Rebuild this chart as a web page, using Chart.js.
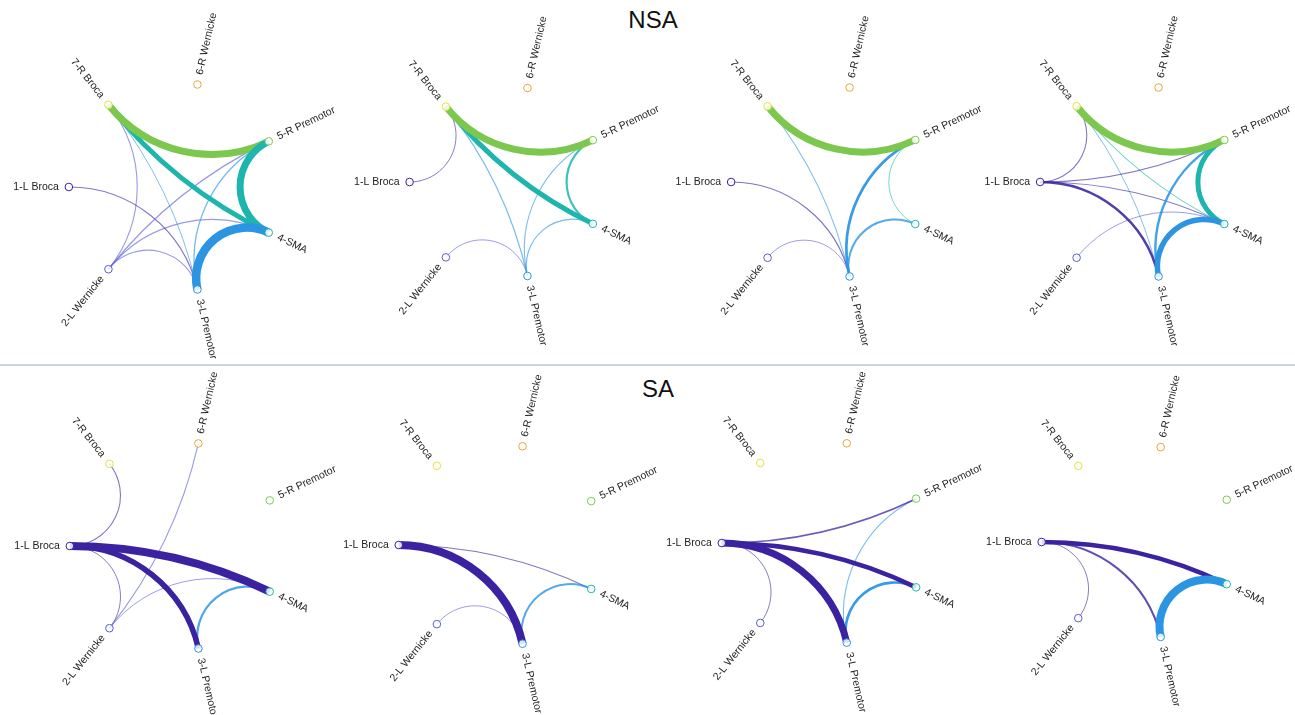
<!DOCTYPE html>
<html>
<head>
<meta charset="utf-8">
<title>NSA / SA</title>
<script src="https://cdn.jsdelivr.net/npm/chart.js@4.4.1/dist/chart.umd.min.js"></script>
<style>
  html, body { margin: 0; padding: 0; background: #fff; }
  body {
    position: relative; width: 1295px; height: 715px; overflow: hidden;
    font-family: "Liberation Sans", Arial, sans-serif;
  }
  .panel { position: absolute; }
  .title {
    position: absolute; font-size: 24px; line-height: 1; color: #111;
    transform: translateX(-50%); white-space: nowrap;
  }
  .sep { position: absolute; left: 0; top: 364px; width: 1295px; height: 2px; background: #c8d5e4; }
</style>
</head>
<body>
<div class="title" style="left:653px;top:8px">NSA</div>
<div class="sep"></div>
<div class="title" style="left:658px;top:377px">SA</div>

<script>
'use strict';

// ── DATA ────────────────────────────────────────────────────────
var nodeNames  = ['1-L Broca', '2-L Wernicke', '3-L Premotor', '4-SMA',
                  '5-R Premotor', '6-R Wernicke', '7-R Broca'];
var nodeColors = ['#3a22a0', '#5a5cd8', '#2b95e3', '#1db5ae',
                  '#7cc84e', '#e6a63c', '#e4e23e'];

// [node a, node b, line width]  (node numbers as in the labels)
var nsa1 = [[7,5,7], [7,4,5], [5,4,7], [4,3,8.5], [5,3,1.3], [5,2,1.2],
            [4,2,1.1], [7,2,1.1], [7,3,1], [1,3,1.1], [2,3,1.1]];
var nsa2 = [[7,5,7], [7,4,5], [5,4,2.2], [7,1,1], [7,3,1.2], [5,3,1.1],
            [4,3,1.2], [2,3,1]];
var nsa3 = [[7,5,7], [7,3,1.1], [5,3,2.7], [5,4,1], [4,3,2], [1,3,1.2], [2,3,1]];
var nsa4 = [[7,5,7], [7,1,1.1], [7,4,1.1], [7,3,1], [1,5,1.1], [1,4,1.1],
            [1,3,2.4], [5,4,5], [5,3,2.4], [4,3,5.5], [2,4,1]];
var sa1  = [[1,7,1.1], [1,4,8], [1,3,5.5], [1,2,1], [2,6,1.1], [2,4,1], [3,4,2.2]];
var sa2  = [[1,3,8], [1,4,1.2], [2,3,1], [3,4,2]];
var sa3  = [[1,5,1.7], [1,4,4.5], [1,3,7], [1,2,1], [3,5,1.1], [3,4,2.7]];
var sa4  = [[1,4,4.5], [1,3,2], [1,2,1], [3,4,8]];

// ── LAYOUT (centre and ring radius of each panel, px) ─────────────
var panels = [
  { edges: nsa1, cx: 174,  cy: 187, r: 108 },
  { edges: nsa2, cx: 506,  cy: 182, r: 99 },
  { edges: nsa3, cx: 828,  cy: 182, r: 99.5 },
  { edges: nsa4, cx: 1137, cy: 182, r: 99.5 },
  { edges: sa1,  cx: 175,  cy: 546, r: 108 },
  { edges: sa2,  cx: 500,  cy: 545, r: 104 },
  { edges: sa3,  cx: 824,  cy: 543, r: 105 },
  { edges: sa4,  cx: 1139, cy: 542, r: 100 }
];
var HALF = 190;      // half size of every canvas
var N    = nodeNames.length;

// node k sits on the unit ring, node 1 on the left, going anticlockwise down
function nodeAngle(k) {
  return Math.PI + (k - 1) * 2 * Math.PI / N;
}

function hexAlpha(hex, a) {
  var n = parseInt(hex.slice(1), 16);
  return 'rgba(' + (n >> 16) + ',' + ((n >> 8) & 255) + ',' + (n & 255) + ',' + a + ')';
}

// ── PLUGINS ─────────────────────────────────────────────────────
// edges: circle arcs orthogonal to the ring (tangents meet at the centre)
var edgePlugin = {
  id: 'edges',
  beforeDatasetsDraw: function (chart) {
    var ctx = chart.ctx;
    var xs  = chart.scales.x, ys = chart.scales.y;
    var ox  = xs.getPixelForValue(0), oy = ys.getPixelForValue(0);
    var rad = xs.getPixelForValue(1) - ox;
    var pts = chart.getDatasetMeta(0).data;
    var list = chart.options.plugins.edges.list.slice().sort(function (a, b) { return a[2] - b[2]; });

    ctx.save();
    list.forEach(function (e) {
      var a = e[0], b = e[1], w = e[2];
      var p = pts[a - 1], q = pts[b - 1];
      var d = Math.abs(a - b);
      var steps = Math.min(d, N - d);
      var R = rad * Math.tan(steps * Math.PI / N);
      var col = nodeColors[Math.min(a, b) - 1];
      ctx.strokeStyle = hexAlpha(col, Math.min(1, 0.4 + 0.6 * w / 3));
      ctx.lineWidth = w;
      ctx.lineCap = 'butt';
      ctx.beginPath();
      ctx.moveTo(p.x, p.y);
      ctx.arcTo(ox, oy, q.x, q.y, R);
      ctx.stroke();
    });
    ctx.restore();
  }
};

// radial node labels
var labelPlugin = {
  id: 'nodeLabels',
  afterDatasetsDraw: function (chart) {
    var ctx = chart.ctx;
    var pts = chart.getDatasetMeta(0).data;
    ctx.save();
    ctx.font = '10.5px "Liberation Sans", Arial, sans-serif';
    ctx.fillStyle = '#222';
    ctx.textBaseline = 'middle';
    pts.forEach(function (pt, i) {
      var ang = nodeAngle(i + 1);
      var c = Math.cos(ang), s = Math.sin(ang);
      ctx.save();
      ctx.translate(pt.x + 10 * c, pt.y - 10 * s);
      if (c < -1e-6) {
        ctx.rotate(-(ang - Math.PI));
        ctx.textAlign = 'right';
      } else {
        ctx.rotate(-ang);
        ctx.textAlign = 'left';
      }
      ctx.fillText(nodeNames[i], 0, 0);
      ctx.restore();
    });
    ctx.restore();
  }
};

// ── BUILD ───────────────────────────────────────────────────────
function buildPanel(p) {
  var canvas = document.createElement('canvas');
  canvas.className = 'panel';
  canvas.width  = HALF * 2;
  canvas.height = HALF * 2;
  canvas.style.left = (p.cx - HALF) + 'px';
  canvas.style.top  = (p.cy - HALF) + 'px';
  canvas.style.width  = HALF * 2 + 'px';
  canvas.style.height = HALF * 2 + 'px';
  document.body.appendChild(canvas);

  var ext = HALF / p.r;
  var nodes = nodeNames.map(function (name, i) {
    var a = nodeAngle(i + 1);
    return { x: Math.cos(a), y: Math.sin(a) };
  });

  return new Chart(canvas.getContext('2d'), {
    type: 'scatter',
    data: {
      datasets: [{
        data: nodes,
        pointRadius: 3.8,
        pointBorderWidth: 1,
        pointBackgroundColor: 'rgba(255,255,255,0.85)',
        pointBorderColor: nodeColors,
        clip: false
      }]
    },
    options: {
      responsive: false,
      animation: false,
      events: [],
      layout: { padding: 0 },
      plugins: {
        legend: { display: false },
        tooltip: { enabled: false },
        edges: { list: p.edges }
      },
      scales: {
        x: { type: 'linear', min: -ext, max: ext, display: false },
        y: { type: 'linear', min: -ext, max: ext, display: false }
      }
    },
    plugins: [edgePlugin, labelPlugin]
  });
}

panels.forEach(buildPanel);
</script>
</body>
</html>
